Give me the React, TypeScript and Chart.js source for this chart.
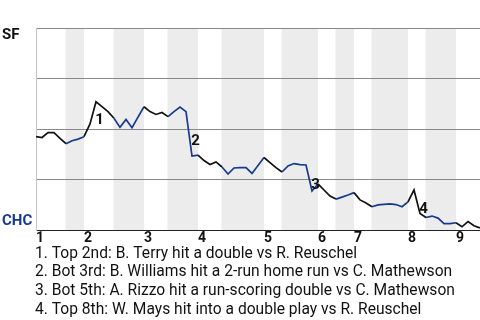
import React, { useEffect, useRef } from "react";
import { Chart, registerables } from "chart.js";

Chart.register(...registerables);

// ---- data ----
const INNING_LABELS = ["1", "2", "3", "4", "5", "6", "7", "8", "9"];
// event index where each inning (top half) starts
const INNING_STARTS = [0, 8, 18, 27, 38, 47, 53, 62, 70];
// bottom halves (CHC batting) as [startEvent, endEvent]
const BOTTOM_HALF_STARTS = [5, 13, 22, 31, 41, 50, 56, 65];
const BOTTOM_HALF_ENDS = [8, 18, 27, 38, 47, 53, 62, 70];
// SF win probability (%) after each event
const SF_WIN_PCT = [
  46.2, 45.8, 48.2, 48.2, 45.4, 42.7, 44.2, 45.0, 46.2, 52.5,
  63.5, 61.1, 58.6, 55.3, 50.8, 54.7, 50.6, 55.9, 61.0, 58.6,
  57.2, 58.2, 56.1, 58.6, 60.9, 58.6, 36.6, 37.1, 34.4, 32.4,
  33.7, 31.2, 27.7, 30.7, 30.9, 30.9, 28.0, 31.9, 35.9, 33.4,
  30.9, 28.7, 31.7, 32.9, 32.4, 32.2, 19.3, 22.8, 19.8, 16.8,
  15.3, 16.3, 17.3, 18.5, 14.9, 13.4, 11.5, 12.4, 12.7, 12.9,
  12.6, 11.5, 13.9, 19.8, 8.2, 6.2, 6.9, 5.9, 3.2, 3.2,
  3.6, 1.6, 4.2, 2.1, 1.0,
];
const KEY_EVENT_INDEX = [10, 26, 46, 64];
const KEY_EVENT_TEXT = [
  "1. Top 2nd: B. Terry hit a double vs R. Reuschel",
  "2. Bot 3rd: B. Williams hit a 2-run home run vs C. Mathewson",
  "3. Bot 5th: A. Rizzo hit a run-scoring double vs C. Mathewson",
  "4. Top 8th: W. Mays hit into a double play vs R. Reuschel",
];
const TEAM_TOP = "SF";
const TEAM_BOTTOM = "CHC";
const Y_TICKS = [0, 25, 50, 75, 100];

// ---- styles ----
const BLUE = "#173a8c";
const DARK = "#111111";
const BAND = "#ececec";
const FONT = "Roboto, 'Noto Sans', sans-serif";

function inBottomHalf(x0: number, x1: number): boolean {
  for (let i = 0; i < BOTTOM_HALF_STARTS.length; i++) {
    if (x0 >= BOTTOM_HALF_STARTS[i] && x1 <= BOTTOM_HALF_ENDS[i]) return true;
  }
  return false;
}

const bandsPlugin = {
  id: "bands",
  beforeDraw(chart: any) {
    const { ctx, chartArea, scales } = chart;
    const xs = scales.x;
    ctx.save();
    ctx.fillStyle = BAND;
    for (let i = 0; i < BOTTOM_HALF_STARTS.length; i++) {
      const a = xs.getPixelForValue(BOTTOM_HALF_STARTS[i]) - 0.5;
      const b = xs.getPixelForValue(BOTTOM_HALF_ENDS[i]);
      ctx.fillRect(a, chartArea.top, b - a, chartArea.bottom - chartArea.top);
    }
    ctx.restore();
  },
};

const annotatePlugin = {
  id: "annotate",
  afterDatasetsDraw(chart: any) {
    const { ctx, scales } = chart;
    const xs = scales.x;
    const ys = scales.y;
    ctx.save();
    ctx.fillStyle = DARK;
    ctx.font = `bold 15px ${FONT}`;
    ctx.textAlign = "center";
    ctx.textBaseline = "middle";
    KEY_EVENT_INDEX.forEach((idx, k) => {
      const mx = xs.getPixelForValue(idx - 0.5);
      const my = (ys.getPixelForValue(SF_WIN_PCT[idx - 1]) + ys.getPixelForValue(SF_WIN_PCT[idx])) / 2;
      ctx.fillText(String(k + 1), mx + 6.5, my + 7.5);
    });
    ctx.restore();
  },
  afterDraw(chart: any) {
    const { ctx, chartArea } = chart;
    ctx.save();
    ctx.textAlign = "left";
    ctx.textBaseline = "alphabetic";
    ctx.font = `bold 15px ${FONT}`;
    ctx.fillStyle = DARK;
    ctx.fillText(TEAM_TOP, 2, chartArea.top + 10.5);
    ctx.fillStyle = BLUE;
    ctx.fillText(TEAM_BOTTOM, 2, chartArea.bottom - 5);
    ctx.fillStyle = DARK;
    ctx.font = `15.6px ${FONT}`;
    KEY_EVENT_TEXT.forEach((t, i) => {
      ctx.fillText(t, chartArea.left - 1, chartArea.bottom + 27.5 + i * 18.7);
    });
    ctx.restore();
  },
};

export default function App() {
  const ref = useRef<HTMLCanvasElement | null>(null);

  useEffect(() => {
    if (!ref.current) return;
    const chart = new Chart(ref.current, {
      type: "line",
      data: {
        datasets: [
          {
            data: SF_WIN_PCT.map((v, i) => ({ x: i, y: v })),
            borderWidth: 1.7,
            borderColor: DARK,
            pointRadius: 0,
            tension: 0,
            fill: false,
            segment: {
              borderColor: (c: any) => (inBottomHalf(c.p0.parsed.x, c.p1.parsed.x) ? BLUE : DARK),
            },
          },
        ],
      },
      options: {
        responsive: false,
        animation: false,
        devicePixelRatio: 1,
        layout: { padding: { top: 28, right: 0, left: 0, bottom: 0 } },
        plugins: { legend: { display: false }, tooltip: { enabled: false } },
        scales: {
          x: {
            type: "linear",
            min: 0,
            max: SF_WIN_PCT.length - 1,
            afterBuildTicks: (s: any) => {
              s.ticks = INNING_STARTS.map((v) => ({ value: v }));
            },
            afterFit: (s: any) => {
              s.height = 90;
            },
            ticks: {
              autoSkip: false,
              maxRotation: 0,
              minRotation: 0,
              align: "start",
              padding: 0,
              color: DARK,
              font: { family: FONT, size: 14, weight: "bold" },
              callback: (_v: any, i: number) => INNING_LABELS[i],
            },
            grid: { display: false, drawTicks: false },
            border: { display: true, color: "#222222", width: 1 },
          },
          y: {
            type: "linear",
            min: 0,
            max: 100,
            afterBuildTicks: (s: any) => {
              s.ticks = Y_TICKS.map((v) => ({ value: v }));
            },
            afterFit: (s: any) => {
              s.width = 36;
            },
            ticks: { display: false },
            grid: {
              color: (c: any) => (c.tick && c.tick.value === 0 ? "#222222" : "#888888"),
              lineWidth: 1,
              drawTicks: false,
            },
            border: { display: true, color: "#c4c4c4", width: 1 },
          },
        },
      },
      plugins: [bandsPlugin, annotatePlugin],
    } as any);
    return () => chart.destroy();
  }, []);

  return (
    <div style={{ position: "absolute", left: 0, top: 0, width: 480, height: 320, background: "#fff" }}>
      <canvas ref={ref} width={480} height={320} style={{ display: "block", width: 480, height: 320 }} />
    </div>
  );
}
